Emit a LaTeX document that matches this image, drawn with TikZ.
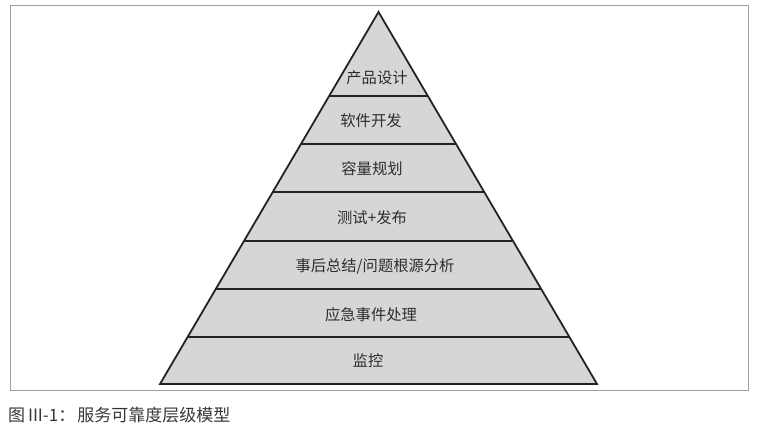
\documentclass[tikz,border=0pt]{standalone}
\usepackage{fontspec}
\newfontfamily\cjk{Noto Sans CJK SC}
\usetikzlibrary{calc}
\definecolor{layerfill}{RGB}{214,214,214}
\definecolor{edge}{RGB}{35,35,35}
\definecolor{framecol}{RGB}{160,160,160}
\definecolor{labelcol}{RGB}{45,45,45}
\definecolor{captioncol}{RGB}{55,55,55}
\begin{document}
\begin{tikzpicture}[x=1pt,y=-1pt,
  layerlabel/.style={font=\cjk\fontsize{15.3}{17}\selectfont, text=labelcol, inner sep=0pt},
  divider/.style={draw=edge, line width=1.8pt},
  captiontext/.style={font=\cjk\fontsize{17}{19}\selectfont, text=captioncol, inner sep=0pt, anchor=west}]
\useasboundingbox (0,0) rectangle (760,436);
\draw[framecol, line width=0.9pt] (10,5) rectangle (748,390);
\coordinate (apex) at (378.5,12);
\coordinate (bl) at (160,384);
\coordinate (br) at (597,384);
\fill[layerfill] (apex) -- (bl) -- (br) -- cycle;
\foreach \t/\n in {0.2258/1,0.3548/2,0.4839/3,0.6156/4,0.7446/5,0.8737/6}{
  \coordinate (l\n) at ($(apex)!\t!(bl)$);
  \coordinate (r\n) at ($(apex)!\t!(br)$);
  \draw[divider] (l\n) -- (r\n);
}
\draw[divider, line join=miter] (apex) -- (bl) -- (br) -- cycle;
\node[layerlabel] (n1) at (377,78) {产品设计};
\node[layerlabel] (n2) at (371,121) {软件开发};
\node[layerlabel] (n3) at (372,169) {容量规划};
\node[layerlabel] (n4) at (372,218) {测试+发布};
\node[layerlabel] (n5) at (375,266) {事后总结/问题根源分析};
\node[layerlabel] (n6) at (371,315) {应急事件处理};
\node[layerlabel] (n7) at (368,361) {监控};
\node[captiontext] (cap) at (8,415) {图\,III-1：\hspace{2pt}服务可靠度层级模型};
\end{tikzpicture}
\end{document}
